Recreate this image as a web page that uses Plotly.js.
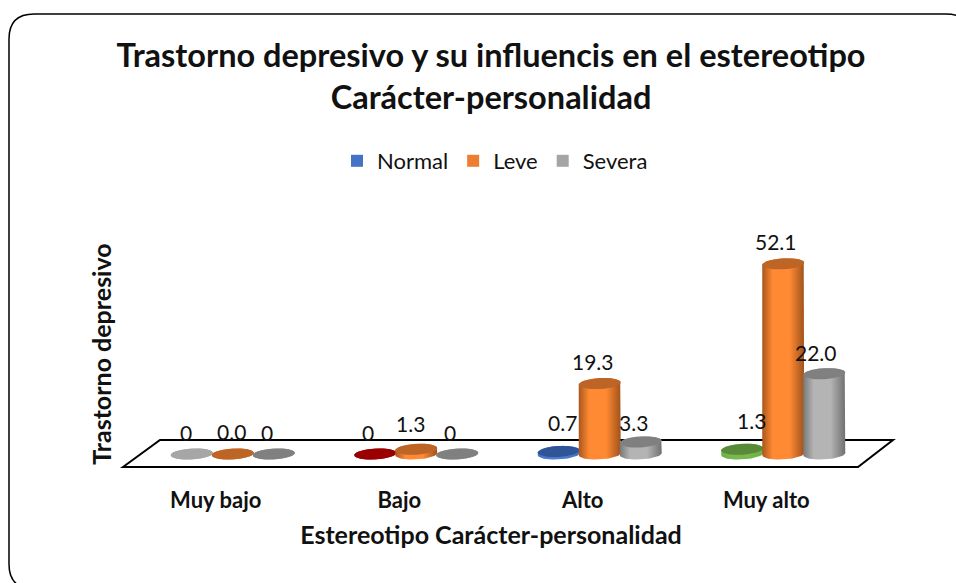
<!DOCTYPE html>
<html>
<head>
<meta charset="utf-8">
<script src="https://cdn.plot.ly/plotly-3.0.1.min.js"></script>
<style>html,body{margin:0;padding:0;background:#fff}#chart{width:956px;height:583px}</style>
</head>
<body>
<div id="chart"></div>
<script>
// ---- data ----
const categories = ["Muy bajo", "Bajo", "Alto", "Muy alto"];
const seriesNames = ["Normal", "Leve", "Severa"];
const normalValues = [0, 0, 0.7, 1.3];
const leveValues = [0.0, 1.3, 19.3, 52.1];
const severaValues = [0, 0, 3.3, 22.0];
const normalLabels = ["0", "0", "0.7", "1.3"];
const leveLabels = ["0.0", "1.3", "19.3", "52.1"];
const severaLabels = ["0", "0", "3.3", "22.0"];
const chartTitle = "Trastorno depresivo y su influencis en el estereotipo<br>Carácter-personalidad";
const xTitle = "Estereotipo Carácter-personalidad";
const yTitle = "Trastorno depresivo";

// ---- styles ----
const W = 956, H = 583, L = 124, R = 858, T = 241, B = 467;
const PX_Y = 3.65, BASE_PX = 454;
const pxPerCat = (R - L) / 4;
const yMin = (BASE_PX - B) / PX_Y, yMax = (BASE_PX - T) / PX_Y;
const dx = p => p / pxPerCat, dy = p => p / PX_Y;
const FONT = "Lato, Carlito, Calibri, sans-serif";
const legendColors = ["#4472C4", "#ED7D31", "#A5A5A5"];
const tone = {
  orange: {side: ["#A9561D", "#FF8A33", "#A0521B"], cap: "#BD6427"},
  gray: {side: ["#787878", "#B4B4B4", "#707070"], cap: "#808080"},
  lgray: {side: ["#8F8F8F", "#BBBBBB", "#8F8F8F"], cap: "#A6A6A6"},
  blue: {side: ["#4472C4", "#4A7BD0", "#4472C4"], cap: "#2F5597"},
  green: {side: ["#70AD47", "#77B94C", "#70AD47"], cap: "#598A38"},
  red: {side: ["#8A0000", "#C00000", "#8A0000"], cap: "#9A0000"}
};
const seriesTones = [
  ["lgray", "red", "blue", "green"],
  ["orange", "orange", "orange", "orange"],
  ["gray", "gray", "gray", "gray"]
];
const allValues = [normalValues, leveValues, severaValues];
const allLabels = [normalLabels, leveLabels, severaLabels];
const seriesShift = [-24, 17, 58];     // px from the tick to the cylinder centre
const labelDx = [[-6, -7, 4, 9], [-1, -6, -7, -7], [-7, -7, -7, -8]];
const labelLift = [[22, 22, 28.5, 28.5], [23, 26, 22, 22.5], [22, 22, 19.5, 21.5]];
const RX = 21, RY = 5.5, TILT = 1.1;

function ellipsePoints(cx, cy, from, to) {
  const out = [];
  for (let k = 0; k <= 28; k++) {
    const a = from + (to - from) * k / 28;
    const ex = RX * Math.cos(a), ey = RY * Math.sin(a) + TILT * Math.cos(a);
    out.push([cx + dx(ex), cy + dy(ey)]);
  }
  return out;
}
function fillTrace(points, extra) {
  return Object.assign({
    type: "scatter", mode: "lines", x: points.map(p => p[0]), y: points.map(p => p[1]),
    fill: "toself", line: {width: 0}, showlegend: false, hoverinfo: "skip"
  }, extra);
}

const traces = [];
// real bars, true to the value scale (slightly narrower than the cylinders that dress them)
allValues.forEach((vals, s) => {
  traces.push({
    type: "bar", name: seriesNames[s], x: categories.map((c, i) => i), y: vals,
    width: dx(38), offset: dx(seriesShift[s] - 19),
    marker: {color: legendColors[s], line: {width: 0}}, hoverinfo: "x+y+name"
  });
});
// cylinder bodies and caps, left to right so neighbours overlap like the reference
categories.forEach((c, i) => {
  allValues.forEach((vals, s) => {
    const v = vals[i], cx = i + dx(seriesShift[s]), t = tone[seriesTones[s][i]];
    const lower = ellipsePoints(cx, 0, Math.PI, 2 * Math.PI);
    const upper = ellipsePoints(cx, v, 0, Math.PI);
    traces.push(fillTrace(lower.concat(upper), {
      fillgradient: {type: "horizontal", colorscale: [[0, t.side[0]], [0.25, t.side[1]], [0.65, t.side[1]], [1, t.side[2]]]}
    }));
    traces.push(fillTrace(ellipsePoints(cx, v, 0, 2 * Math.PI), {fillcolor: t.cap}));
  });
});

// data labels
const annotations = [];
allValues.forEach((vals, s) => {
  vals.forEach((v, i) => {
    annotations.push({
      xref: "x", yref: "y", x: i + dx(seriesShift[s]), y: v, text: allLabels[s][i],
      showarrow: false, xanchor: "center", yanchor: "middle",
      xshift: labelDx[s][i], yshift: labelLift[s][i],
      font: {family: FONT, size: 21, color: "#111111"}
    });
  });
});

// floor and frame, placed in paper fractions; the frame runs past the right and bottom of the page
const px = x => (x - L) / (R - L), py = y => (B - y) / (B - T);
const pathOf = cmds => cmds.map(c => c[0] + c.slice(1).map((v, k) => (k % 2 ? py(v) : px(v)).toFixed(5)).join(" ")).join(" ");
const shapes = [
  {type: "path", xref: "paper", yref: "paper", layer: "below",
   path: pathOf([["M", 34, 589], ["Q", 9, 589, 9, 564], ["L", 9, 39], ["Q", 9, 14, 34, 14], ["L", 946, 14], ["Q", 971, 14, 971, 39]]),
   line: {color: "#000000", width: 1.5}},
  {type: "path", xref: "paper", yref: "paper", layer: "below",
   path: pathOf([["M", 123, 467], ["L", 160, 440], ["L", 893, 440], ["L", 858, 467], ["Z"]]),
   line: {color: "#000000", width: 2}, fillcolor: "#FFFFFF"}
];

const layout = {
  width: W, height: H, autosize: false,
  margin: {l: L, r: W - R, t: T, b: H - B, pad: 0},
  paper_bgcolor: "#FFFFFF", plot_bgcolor: "rgba(0,0,0,0)",
  font: {family: FONT, color: "#111111"},
  title: {text: chartTitle, x: 0.5, xref: "paper", xanchor: "center", y: 1 - 67 / H, yref: "container", yanchor: "top",
    font: {family: FONT, size: 32.5, color: "#111111", weight: 700}},
  barmode: "overlay",
  showlegend: true,
  legend: {orientation: "h", x: 495 / W, xref: "container", xanchor: "center", y: 1 - 140 / H, yref: "container", yanchor: "top",
    font: {family: FONT, size: 22, color: "#111111"}, bgcolor: "rgba(0,0,0,0)", traceorder: "normal"},
  xaxis: {type: "linear", range: [-0.5, 3.5], tickmode: "array", tickvals: categories.map((c, i) => i), ticktext: categories,
    showgrid: false, zeroline: false, showline: false, ticks: "", ticklabelstandoff: 18,
    tickfont: {family: FONT, size: 22, color: "#111111", weight: 700},
    title: {text: xTitle, standoff: 14, font: {family: FONT, size: 25, color: "#111111", weight: 700}}},
  yaxis: {range: [yMin, yMax], showgrid: false, zeroline: false, showline: false, ticks: "", showticklabels: false,
    title: {text: yTitle, standoff: 4, font: {family: FONT, size: 25, color: "#111111", weight: 700}}},
  shapes: shapes, annotations: annotations
};
Plotly.newPlot("chart", traces, layout, {displayModeBar: false, staticPlot: true});
</script>
</body>
</html>
